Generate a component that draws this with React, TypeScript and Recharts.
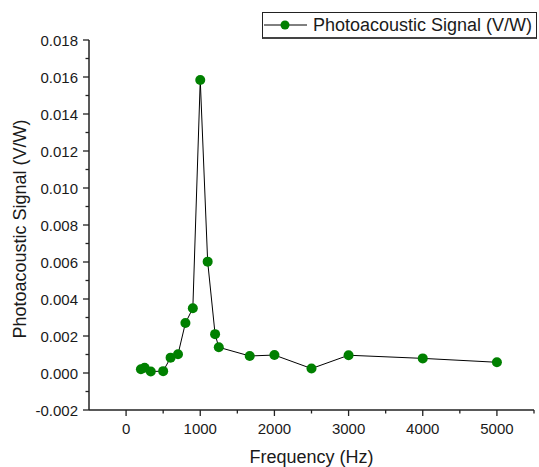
import React from "react";
import { LineChart, Line, XAxis, YAxis, Legend } from "recharts";

const frequencies = [200, 250, 333, 500, 600, 700, 800, 900, 1000, 1100, 1200, 1250, 1667, 2000, 2500, 3000, 4000, 5000];
const signal = [0.0002, 0.00028, 0.00008, 0.0001, 0.00083, 0.00101, 0.0027, 0.0035, 0.01584, 0.00602, 0.0021, 0.00139, 0.00092, 0.00097, 0.00024, 0.00096, 0.00079, 0.00058];

const xMajorTicks = [0, 1000, 2000, 3000, 4000, 5000];
const xMinorTicks = [500, 1500, 2500, 3500, 4500, 5500];
const yMajorTicks = [-0.002, 0, 0.002, 0.004, 0.006, 0.008, 0.01, 0.012, 0.014, 0.016, 0.018];
const yMinorTicks = [-0.001, 0.001, 0.003, 0.005, 0.007, 0.009, 0.011, 0.013, 0.015, 0.017];

const seriesName = "Photoacoustic Signal (V/W)";
const xTitle = "Frequency (Hz)";
const yTitle = "Photoacoustic Signal (V/W)";

const data = frequencies.map((f, i) => ({ f, s: signal[i] }));

const FONT = "'Liberation Sans', Arial, sans-serif";
const TEXT = "#1a1a1a";
const AXIS = "#222";

const XTick = (props: any) => {
  const { x, y, payload } = props;
  const major = xMajorTicks.includes(payload.value);
  return (
    <g>
      <line x1={x} x2={x} y1={y} y2={y + (major ? 6 : 3.5)} stroke={AXIS} strokeWidth={1.3} />
      {major && (
        <text x={x} y={y + 24} textAnchor="middle" fontSize={15} fontFamily={FONT} fill={TEXT}>
          {String(payload.value)}
        </text>
      )}
    </g>
  );
};

const YTick = (props: any) => {
  const { x, y, payload } = props;
  const v = payload.value;
  const major = yMajorTicks.some((t) => Math.abs(t - v) < 1e-9);
  return (
    <g>
      <line x1={x - (major ? 6 : 3.5)} x2={x} y1={y} y2={y} stroke={AXIS} strokeWidth={1.3} />
      {major && (
        <text x={x - 11} y={y + 5.5} textAnchor="end" fontSize={15} fontFamily={FONT} fill={TEXT}>
          {v.toFixed(3)}
        </text>
      )}
    </g>
  );
};

const LegendBox = () => (
  <div
    style={{
      boxSizing: "border-box",
      width: 275,
      height: 27,
      border: "1px solid #222",
      borderBottom: "2px solid #444",
      background: "#fff",
      display: "flex",
      alignItems: "center",
      fontFamily: FONT,
      fontSize: 18,
      color: TEXT,
      whiteSpace: "nowrap",
    }}
  >
    <svg width={48} height={20} style={{ display: "block" }}>
      <line x1={1} x2={44} y1={10} y2={10} stroke="#000" strokeWidth={1} />
      <circle cx={22} cy={10} r={4.5} fill="#008000" />
    </svg>
    <span style={{ marginLeft: 2 }}>{seriesName}</span>
  </div>
);

export default function App() {
  return (
    <div style={{ position: "absolute", left: 0, top: 0, width: 539, height: 467, background: "#fff" }}>
      <LineChart width={539} height={467} data={data} margin={{ top: 40, right: 5, bottom: 0, left: 0 }}>
        <XAxis
          dataKey="f"
          type="number"
          domain={[-500, 5500]}
          ticks={[...xMajorTicks, ...xMinorTicks].sort((a, b) => a - b)}
          interval={0}
          height={57}
          tickSize={0}
          tickMargin={0}
          tickLine={false}
          tick={<XTick />}
          axisLine={{ stroke: AXIS, strokeWidth: 1.5 }}
          allowDataOverflow
          label={{
            content: () => (
              <text x={311.5} y={463} textAnchor="middle" fontSize={18} fontFamily={FONT} fill={TEXT}>
                {xTitle}
              </text>
            ),
          }}
        />
        <YAxis
          type="number"
          domain={[-0.002, 0.018]}
          ticks={[...yMajorTicks, ...yMinorTicks].sort((a, b) => a - b)}
          interval={0}
          width={89}
          tickSize={0}
          tickMargin={0}
          tickLine={false}
          tick={<YTick />}
          axisLine={{ stroke: AXIS, strokeWidth: 1.5 }}
          allowDataOverflow
          label={{
            content: () => (
              <text
                transform="translate(26,229) rotate(-90)"
                textAnchor="middle"
                fontSize={18}
                fontFamily={FONT}
                fill={TEXT}
              >
                {yTitle}
              </text>
            ),
          }}
        />
        <Legend
          layout="vertical"
          align="center"
          verticalAlign="middle"
          wrapperStyle={{ top: 12, left: 262, width: "auto", height: "auto" }}
          content={() => <LegendBox />}
        />
        <Line
          dataKey="s"
          name={seriesName}
          stroke="#000"
          strokeWidth={1}
          dot={{ r: 5, fill: "#008000", stroke: "#008000", strokeWidth: 0 }}
          activeDot={false}
          isAnimationActive={false}
        />
      </LineChart>
    </div>
  );
}
